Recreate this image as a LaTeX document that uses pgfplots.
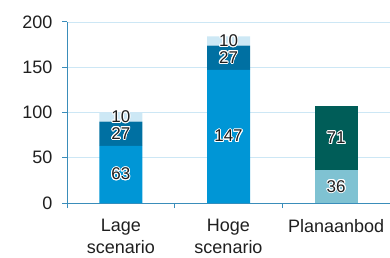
\documentclass[border=0pt]{standalone}
\usepackage{pgfplots}
\pgfplotsset{compat=1.18}
\usepackage{fontspec}
\setmainfont{Liberation Sans}
\usepackage{contour}
\contourlength{0.9pt}
\definecolor{cBlue}{HTML}{0096D6}
\definecolor{cDark}{HTML}{0070A2}
\definecolor{cLight}{HTML}{CDE8F5}
\definecolor{cTealL}{HTML}{7FC2D2}
\definecolor{cTealD}{HTML}{005D58}
\definecolor{axisc}{HTML}{3A8DBA}
\definecolor{gridc}{HTML}{CDE7F5}
\pgfplotsset{
  base/.style={
    at={(67pt,54pt)}, anchor=south west, scale only axis,
    width=323pt, height=181pt,
    xmin=-0.5, xmax=2.5, ymin=0, ymax=200,
  }
}
\begin{document}
\begin{tikzpicture}
\useasboundingbox (0,0) rectangle (390pt,257pt);
\begin{axis}[base,
  ybar stacked, bar width=43pt,
  axis x line*=bottom, axis y line*=left,
  axis line style={draw=axisc, line width=1pt},
  ymajorgrids, grid style={draw=gridc, line width=0.8pt},
  ytick={0,50,100,150,200},
  tick align=outside, major tick length=5pt,
  y tick style={draw=axisc, line width=1pt},
  xtick={0,1,2},
  xticklabels={Lage\\scenario, Hoge\\scenario, Planaanbod},
  x tick style={draw=none},
  extra x ticks={-0.5,0.5,1.5,2.5},
  extra x tick labels={},
  extra x tick style={x tick style={draw=axisc, line width=1pt}},
  tick label style={font=\fontsize{18}{22}\selectfont, text=black!88},
  xticklabel style={align=center, yshift=-8pt},
  yticklabel style={xshift=-6pt},
  /pgf/number format/assume math mode=true,
]
\addplot[fill=cBlue, draw=none] coordinates {(0,63) (1,147) (2,0)};
\addplot[fill=cDark, draw=none] coordinates {(0,27) (1,27) (2,0)};
\addplot[fill=cLight, draw=none] coordinates {(0,10) (1,10) (2,0)};
\addplot[fill=cTealL, draw=none] coordinates {(0,0) (1,0) (2,36)};
\addplot[fill=cTealD, draw=none] coordinates {(0,0) (1,0) (2,71)};
\end{axis}
\begin{axis}[base, hide axis, clip=false]
\addplot[draw=none, mark=none, nodes near coords={\contour{white}{\pgfplotspointmeta}},
  point meta=explicit symbolic,
  every node near coord/.append style={anchor=center, font=\fontsize{17}{20}\selectfont, text=black!88}]
  coordinates {(0,31.5)[63] (0,76.5)[27] (0,95)[10]
               (1,73.5)[147] (1,160.5)[27] (1,179)[10]
               (2,18)[36] (2,71.5)[71]};
\end{axis}
\end{tikzpicture}
\end{document}
